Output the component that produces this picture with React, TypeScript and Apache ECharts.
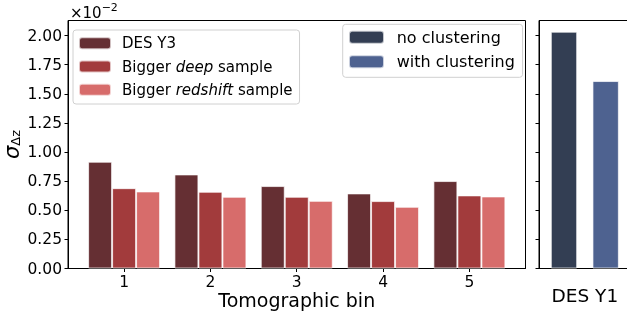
import React, { useEffect, useRef } from "react";
import * as echarts from "echarts";

const bins = [1, 2, 3, 4, 5];
const desY3 = [0.917, 0.808, 0.708, 0.645, 0.751];
const biggerDeep = [0.69, 0.659, 0.616, 0.579, 0.628];
const biggerRedshift = [0.662, 0.616, 0.581, 0.53, 0.619];
const desY1Names = ["no clustering", "with clustering"];
const desY1Positions = [0, 1];
const desY1Values = [2.034, 1.61];
const yTicks = [0, 0.25, 0.5, 0.75, 1.0, 1.25, 1.5, 1.75, 2.0];
const leftSeriesNames = ["DES Y3", "Bigger deep sample", "Bigger redshift sample"];

const FONT = "DejaVu Sans";
const leftColors = ["#652f33", "#a23b3c", "#d76c6b"];
const rightColors = ["#333e53", "#4e6290"];

export default function App() {
  const ref = useRef<HTMLDivElement>(null);
  useEffect(() => {
    if (!ref.current) return;
    const chart = echarts.init(ref.current, null, { renderer: "svg" });
    const leftSeriesData = [desY3, biggerDeep, biggerRedshift];
    const barBorder = { borderColor: "rgba(255,255,255,0.7)", borderWidth: 1 };
    const axisLine = { show: true, onZero: false, lineStyle: { color: "#000" } };
    const option: any = {
      animation: false,
      textStyle: { fontFamily: FONT },
      grid: [
        { left: 68, top: 20.5, width: 457.5, height: 248, show: true, borderColor: "#000", borderWidth: 1, backgroundColor: "transparent", containLabel: false, outerBoundsMode: "none" },
        { left: 539, top: 20.5, width: 100, height: 248, show: true, borderColor: "#000", borderWidth: 1, backgroundColor: "transparent", containLabel: false, outerBoundsMode: "none" },
      ],
      xAxis: [
        {
          type: "value", gridIndex: 0, min: 0.35, max: 5.65,
          splitLine: { show: false },
          axisLine,
          axisTick: { show: true, length: 3.5, customValues: bins, lineStyle: { color: "#000" } },
          axisLabel: { customValues: bins, fontSize: 15.5, color: "#000", margin: 5, fontFamily: FONT, formatter: (v: number) => String(v) },
          name: "Tomographic bin", nameLocation: "middle", nameGap: 22, nameMoveOverlap: false,
          nameTextStyle: { fontSize: 19, color: "#000", fontFamily: FONT, verticalAlign: "top" },
        },
        {
          type: "value", gridIndex: 1, min: -0.6, max: 1.8,
          splitLine: { show: false },
          axisLine,
          axisTick: { show: false },
          axisLabel: { customValues: [0.5], fontSize: 18.5, color: "#000", margin: 17, fontFamily: FONT, formatter: () => "DES Y1" },
        },
      ],
      yAxis: [
        {
          type: "value", gridIndex: 0, min: 0, max: 2.13,
          splitLine: { show: false },
          axisLine,
          axisTick: { show: true, length: 3.5, customValues: yTicks, lineStyle: { color: "#000" } },
          axisLabel: { customValues: yTicks, fontSize: 15.5, color: "#000", margin: 6, fontFamily: FONT, formatter: (v: number) => v.toFixed(2) },
          name: "{s|σ}{sub|Δz}", nameLocation: "middle", nameRotate: 90, nameGap: 46, nameMoveOverlap: false,
          nameTextStyle: {
            rich: {
              s: { fontSize: 21, fontStyle: "italic", fontFamily: FONT, color: "#000", verticalAlign: "bottom", lineHeight: 20 },
              sub: { fontSize: 13, fontFamily: FONT, color: "#000", verticalAlign: "bottom", lineHeight: 17 },
            },
          },
        },
        {
          type: "value", gridIndex: 1, min: 0, max: 2.13,
          splitLine: { show: false },
          axisLine,
          axisTick: { show: true, length: 3.5, customValues: yTicks, lineStyle: { color: "#000" } },
          axisLabel: { show: false },
        },
      ],
      legend: [
        {
          data: leftSeriesNames,
          orient: "vertical", left: 73, top: 30,
          padding: [5.7, 7, 6.7, 5],
          itemWidth: 32, itemHeight: 12, itemGap: 8.3,
          borderColor: "#d0d0d0", borderWidth: 1, borderRadius: 3,
          backgroundColor: "rgba(255,255,255,0.8)",
          formatter: (name: string) => {
            if (name === "Bigger deep sample") return "{n|Bigger }{i|deep}{n| sample}";
            if (name === "Bigger redshift sample") return "{n|Bigger }{i|redshift}{n| sample}";
            return "{n|" + name + "}";
          },
          textStyle: {
            padding: [0, 0, 0, 6],
            lineHeight: 14,
            rich: {
              n: { fontSize: 15, fontFamily: FONT, color: "#000", lineHeight: 14 },
              i: { fontSize: 15, fontFamily: FONT, fontStyle: "italic", color: "#000", lineHeight: 14 },
            },
          },
        },
        {
          data: desY1Names,
          orient: "vertical", left: 342.7, top: 24.3,
          padding: [5, 7.7, 7.6, 5.3],
          itemWidth: 35, itemHeight: 13, itemGap: 8.4,
          borderColor: "#d0d0d0", borderWidth: 1, borderRadius: 3,
          backgroundColor: "rgba(255,255,255,0.8)",
          textStyle: { fontSize: 16, fontFamily: FONT, color: "#000", lineHeight: 16, padding: [0, 0, 0, 7.7] },
        },
      ],
      graphic: [
        {
          type: "text", left: 70, top: 2,
          style: {
            text: "{a|×10}{b|−2}",
            rich: {
              a: { fontSize: 15, fontFamily: FONT, fill: "#000", verticalAlign: "bottom", lineHeight: 18 },
              b: { fontSize: 11, fontFamily: FONT, fill: "#000", verticalAlign: "top", lineHeight: 12 },
            },
          },
        },
      ],
      series: [
        ...leftSeriesNames.map((name, k) => ({
          name, type: "bar", xAxisIndex: 0, yAxisIndex: 0,
          barWidth: 24, barGap: "0%",
          itemStyle: { color: leftColors[k], ...barBorder },
          data: bins.map((b, i) => [b, leftSeriesData[k][i]]),
        })),
        ...desY1Names.map((name, k) => ({
          name, type: "bar", xAxisIndex: 1, yAxisIndex: 1,
          barWidth: 26.4, barGap: "-100%",
          itemStyle: { color: rightColors[k], ...barBorder },
          data: [[desY1Positions[k], desY1Values[k]]],
        })),
      ],
    };
    chart.setOption(option);
    return () => chart.dispose();
  }, []);
  return <div ref={ref} style={{ position: "fixed", left: 0, top: 0, width: 627, height: 315 }} />;
}
